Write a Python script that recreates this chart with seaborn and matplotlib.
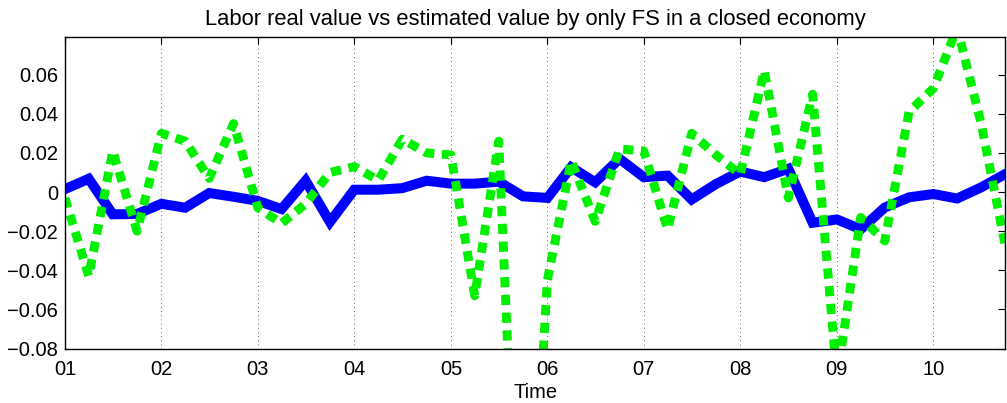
import numpy as np
import pandas as pd
import matplotlib
matplotlib.use('Agg')
import matplotlib.pyplot as plt
import matplotlib.dates as mdates
import seaborn as sns

# quarterly observations 2001Q1 .. 2010Q4
quarters = pd.date_range('2001-01-01', periods=40, freq='QS')

labor_real = [0.0015, 0.0068, -0.0114, -0.0112,
              -0.0060, -0.0080, -0.0005, -0.0024,
              -0.0045, -0.0087, 0.0058, -0.0153,
              0.0012, 0.0012, 0.0020, 0.0058,
              0.0043, 0.0043, 0.0053, -0.0022,
              -0.0030, 0.0127, 0.0050, 0.0170,
              0.0076, 0.0084, -0.0038, 0.0041,
              0.0105, 0.0076, 0.0119, -0.0157,
              -0.0140, -0.0190, -0.0079, -0.0027,
              -0.0010, -0.0033, 0.0024, 0.0093]

labor_est_fs = [-0.003, -0.043, 0.021, -0.020,
                0.030, 0.026, 0.007, 0.035,
                -0.008, -0.016, -0.006, 0.010,
                0.013, 0.006, 0.027, 0.020,
                0.019, -0.053, 0.026, -0.260,
                -0.045, 0.016, -0.015, 0.022,
                0.021, -0.019, 0.030, 0.019,
                0.009, 0.062, -0.003, 0.050,
                -0.095, -0.013, -0.025, 0.041,
                0.053, 0.084, 0.035, -0.028]

yticks = [-0.08, -0.06, -0.04, -0.02, 0, 0.02, 0.04, 0.06]
ytick_labels = ['\u22120.08', '\u22120.06', '\u22120.04', '\u22120.02', '0',
                '0.02', '0.04', '0.06']

sns.set_style('white')
plt.rcParams['font.family'] = ['Liberation Sans', 'DejaVu Sans']
plt.rcParams['text.color'] = 'black'
plt.rcParams['axes.labelcolor'] = 'black'

fig = plt.figure(figsize=(10.07, 4.03), dpi=100)
ax = fig.add_axes([0.0645, 0.135, 0.934, 0.772])

sns.lineplot(x=quarters, y=labor_real, ax=ax, color='#0000ff', linewidth=7.2,
             solid_joinstyle='miter')
sns.lineplot(x=quarters, y=labor_est_fs, ax=ax, color='#00f000', linewidth=6.4,
             dash_capstyle='butt')
ax.lines[1].set_dashes([1.15, 0.85])

ax.set_xlim(quarters[0], quarters[-1])
ax.set_ylim(-0.08, 0.079)
ax.set_yticks(yticks)
ax.set_yticklabels(ytick_labels)
ax.xaxis.set_major_locator(mdates.YearLocator())
ax.xaxis.set_major_formatter(mdates.DateFormatter('%y'))

ax.tick_params(direction='in', length=5, width=0.8, top=True, right=True,
               labelsize=14.5, colors='black', pad=5)
ax.tick_params(axis='x', pad=8)
ax.grid(True, axis='x', color='black', linestyle=(0, (1, 4)), linewidth=0.6, alpha=0.8)
ax.grid(False, axis='y')
for sp in ax.spines.values():
    sp.set_color('black')
    sp.set_linewidth(1.0)

ax.set_title('Labor real value vs estimated value by only FS in a closed economy',
             fontsize=15.8, pad=9, color='black')
ax.set_xlabel('Time', fontsize=14.5, labelpad=3)
ax.set_ylabel('')

fig.savefig('out.png', dpi=100)
